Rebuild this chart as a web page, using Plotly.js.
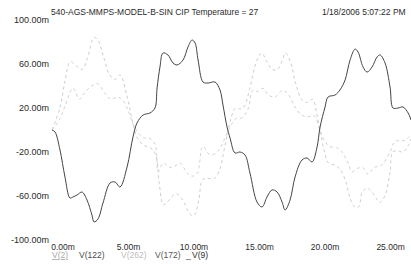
<!DOCTYPE html>
<html>
<head>
<meta charset="utf-8">
<script src="https://cdn.plot.ly/plotly-3.0.1.min.js"></script>
<style>html,body{margin:0;padding:0;background:#fff;}#chart{width:411px;height:264px;}</style>
</head>
<body>
<div id="chart"></div>
<script>
// time in ms, values in mV ("m" units)
const tV9 = [0.00,0.23,0.61,0.99,1.37,1.60,1.91,2.29,2.67,3.05,3.21,3.51,3.89,4.43,4.81,5.19,5.73,6.18,6.49,6.95,7.48,7.86,8.02,8.24,8.47,8.85,9.24,9.54,10.0,10.38,10.69,10.92,11.15,11.53,11.91,12.44,12.82,13.05,13.36,13.59,13.97,14.35,14.73,15.11,15.65,16.03,16.41,16.79,17.18,17.56,17.79,18.17,18.55,19.08,19.47,19.85,20.23,20.46,20.84,21.07,21.60,21.98,22.37,22.75,23.13,23.36,23.74,24.05,24.43,24.81,25.04,25.42,25.80,26.03,26.41,26.79,27.18,27.40];
const vV9 = [0,-1.8,-18.2,-42.7,-61.8,-60.9,-59.1,-56.4,-63.6,-77.3,-83.6,-80.9,-66.4,-48.2,-47.3,-51.8,-33.6,-6.4,6.4,13.6,15.5,20.0,38.2,57.3,70.0,68.2,60.9,59.1,63.6,75.5,81.8,79.1,63.6,43.6,42.7,43.6,36.4,22.7,2.7,-7.3,-20.9,-20.0,-22.7,-39.1,-65.5,-70.0,-60.9,-54.5,-56.4,-65.5,-72.7,-63.6,-42.7,-27.3,-25.5,-29.1,-15.5,2.7,20.9,30.0,31.8,36.4,45.5,63.6,73.6,70.9,57.3,52.7,57.3,66.4,68.2,60.9,39.1,20.0,20.0,20.9,15.5,9.1];

const tV2 = [0,0.6,1.0,1.4,1.9,2.3,2.7,3.2,3.5,3.9,4.4,4.8,5.2,5.7,6.2,6.5,7.0,7.5,7.9,8.2,8.5,8.85,9.2,9.5,10.0,10.4,10.7,10.9,11.2,11.5,11.9,12.4,12.8,13.1,13.4,13.6,14.0,14.4,14.7,15.1,15.6,16.0,16.4,16.8,17.2,17.6,17.8,18.2,18.6,19.1,19.5,19.9,20.2,20.5,20.8,21.1,21.6,22.0,22.4,22.75,23.1,23.4,23.7,24.1,24.4,24.8,25.0,25.4,25.8,26.0,26.4,26.8,27.2,27.4];
const vV2 = [0,20,45,62,58,55,65,84,82,68,50,46,50,32,5,-7,-14,-16,-22,-50,-68,-65,-60,-58,-64,-74,-78,-77,-64,-45,-44,-44,-36,-20,-3,8,20,19,22,38,62,70,62,55,55,64,70,62,42,27,25,28,15,-3,-20,-30,-32,-36,-46,-62,-70,-70,-56,-53,-56,-63,-66,-60,-38,-20,-19,-20,-14,-8];

const tV262 = [0,0.6,1.0,1.6,2.1,2.5,3.0,3.5,4.0,4.5,5.0,5.4,5.8,6.2,6.6,7.0,7.5,7.9,8.1,8.5,9.0,9.5,9.8,10.3,10.7,11.1,11.5,12.0,12.4,12.8,13.1,13.4,13.7,14.0,14.5,15.0,15.3,15.7,16.1,16.5,17.0,17.6,18.0,18.5,19.0,19.5,20.0,20.4,20.8,21.2,21.7,22.2,22.6,22.9,23.3,23.7,24.1,24.6,25.0,25.3,25.8,26.2,26.7,27.1,27.4];
const vV262 = [0,10,22,38,28,34,40,42,34,28,30,27,18,5,-3,-7,-8,-14,-38,-30,-34,-32,-30,-39,-42,-39,-15,-22,-22,-17,-10,-2,5,10,11,20,36,35,38,32,30,36,33,22,14,12,13,2,-10,-15,-16,-21,-30,-38,-35,-34,-40,-34,-33,-30,-20,-10,-10,-8,-4];

const xTickVals = [0,5,10,15,20,25];
const xTickText = ["0.00m","5.00m","10.00m","15.00m","20.00m","25.00m"];
const yTickVals = [100,60,20,-20,-60,-100];
const yTickText = ["100.00m","60.00m","20.00m","-20.00m","-60.00m","-100.00m"];

const titleText = "540-AGS-MMPS-MODEL-B-SIN CIP Temperature = 27";
const dateText = "1/18/2006 5:07:22 PM";
const legendNames = ["V(2)","V(122)","V(262)","V(172)","_","V(9)"];
const legendColors = ["#a8a8a8","#4a4a4a","#bdbdbd","#555555","#555555","#2e2e2e"];
const legendPx = [50,77,119,153,183,190];

const FONT = "Liberation Sans, Arial, sans-serif";
const plotL = 52, plotW = 359;

const traces = [
  {x:tV2, y:vV2, mode:"lines", line:{color:"#cdcdcd", width:1, dash:"dot", shape:"spline"}, name:"V(2)", hoverinfo:"skip"},
  {x:tV262, y:vV262, mode:"lines", line:{color:"#d2d2d2", width:1, dash:"dot", shape:"spline"}, name:"V(262)", hoverinfo:"skip"},
  {x:tV9, y:vV9, mode:"lines", line:{color:"#444444", width:1, shape:"spline"}, name:"V(9)", hoverinfo:"skip"}
];

const annotations = [
  {text:titleText, xref:"paper", yref:"paper", x:(49-plotL)/plotW, y:1+(20-12)/220, xanchor:"left", yanchor:"middle", showarrow:false, font:{family:FONT, size:8.5, color:"#2a2a2a"}},
  {text:dateText, xref:"paper", yref:"paper", x:(408-plotL)/plotW, y:1+(20-12)/220, xanchor:"right", yanchor:"middle", showarrow:false, font:{family:FONT, size:8.5, color:"#2a2a2a"}}
];
legendNames.forEach((n,i)=>{
  annotations.push({text:(i===0?"<u>"+n+"</u>":n), xref:"paper", yref:"paper", x:(legendPx[i]-plotL)/plotW, y:-(255-240)/220, xanchor:"left", yanchor:"middle", showarrow:false, font:{family:FONT, size:8.5, color:legendColors[i]}});
});

const layout = {
  width:411, height:264,
  margin:{l:plotL, r:0, t:20, b:24, pad:0},
  paper_bgcolor:"#ffffff", plot_bgcolor:"#ffffff",
  showlegend:false,
  xaxis:{range:[0,27.4], tickvals:xTickVals, ticktext:xTickText, showgrid:false, zeroline:false, showline:false, ticks:"", ticklabelshift:11, ticklabelstandoff:0, tickfont:{family:FONT, size:8.5, color:"#2a2a2a"}, fixedrange:true},
  yaxis:{range:[-100,100], tickvals:yTickVals, ticktext:yTickText, showgrid:false, zeroline:false, showline:false, ticks:"", ticklabelstandoff:2, tickfont:{family:FONT, size:9, color:"#2a2a2a"}, fixedrange:true},
  annotations:annotations
};

Plotly.newPlot("chart", traces, layout, {staticPlot:true, displayModeBar:false});
</script>
</body>
</html>
